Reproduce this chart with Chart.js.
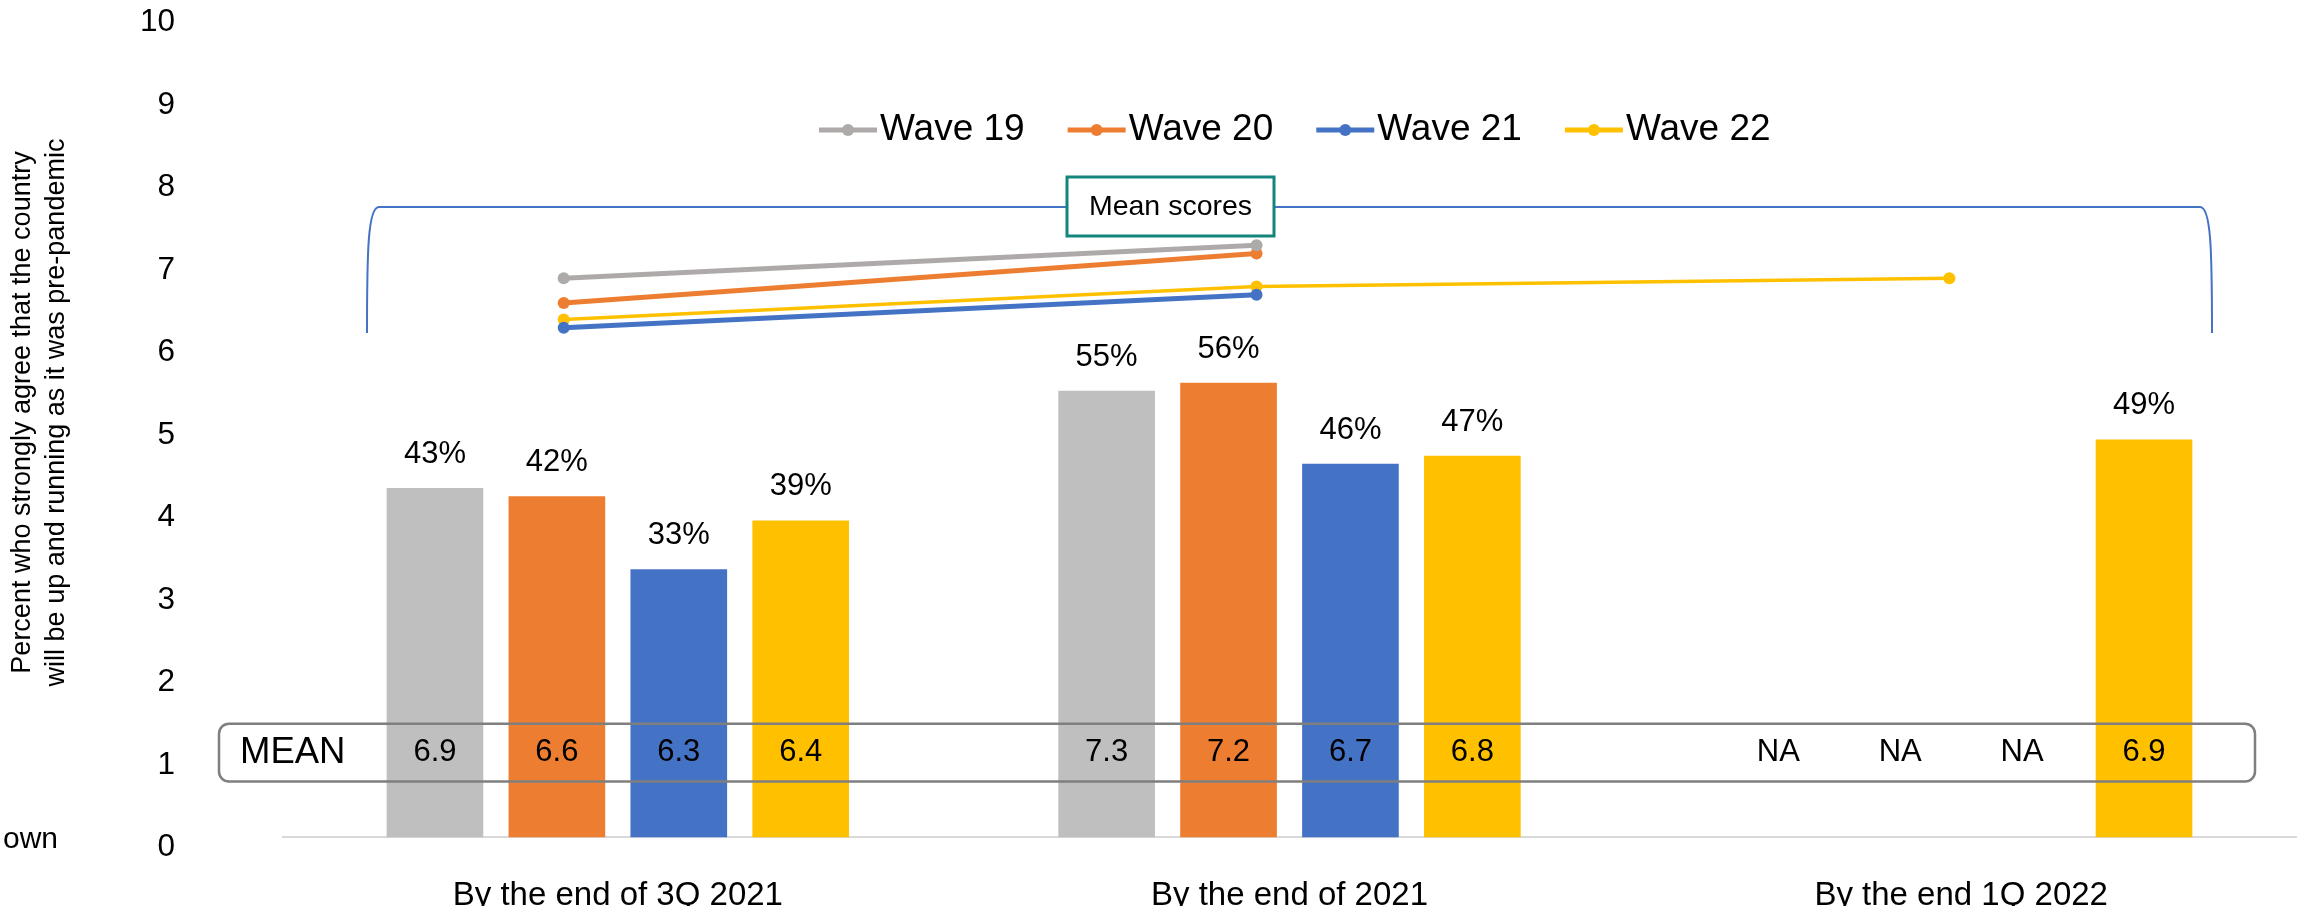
<!DOCTYPE html>
<html>
<head>
<meta charset="utf-8">
<script src="https://cdn.jsdelivr.net/npm/chart.js@4.4.1/dist/chart.umd.min.js"></script>
<style>
  html, body { margin: 0; padding: 0; background: #fff; }
  #wrap { position: relative; width: 2303px; height: 906px; }
</style>
</head>
<body>
<div id="wrap"><canvas id="chart"></canvas></div>
<script>
const categories = ['By the end of 3Q 2021', 'By the end of 2021', 'By the end 1Q 2022'];
const waves = ['Wave 19', 'Wave 20', 'Wave 21', 'Wave 22'];

// percent who strongly agree (bars)
const pct19 = [43, 55, null];
const pct20 = [42, 56, null];
const pct21 = [33, 46, null];
const pct22 = [39, 47, 49];

// mean scores (lines and the MEAN row)
const mean19 = [6.9, 7.3, null];
const mean20 = [6.6, 7.2, null];
const mean21 = [6.3, 6.7, null];
const mean22 = [6.4, 6.8, 6.9];

const yTickValues = [0, 1, 2, 3, 4, 5, 6, 7, 8, 9, 10];

const pcts = [pct19, pct20, pct21, pct22];
const means = [mean19, mean20, mean21, mean22];
const barColors = ['#BFBFBF', '#ED7D31', '#4472C4', '#FFC000'];
const lineColors = ['#AEAAAA', '#ED7D31', '#4472C4', '#FFC000'];
const FONT = "'Liberation Sans', Arial, sans-serif";

// share of a category taken by the group of four bars
// (chart.js 4.5 counts the line datasets as bar stacks, so the grouping is done here)
const GROUP = 0.726;
const slotOffset = i => (i - (waves.length - 1) / 2) * GROUP / waves.length;

Chart.defaults.font.family = FONT;
Chart.defaults.color = '#000';

const decorations = {
    id: 'decorations',
    beforeDatasetsDraw(chart) {
        const { ctx, chartArea } = chart;
        const y0 = chart.scales.yBar.getPixelForValue(0);
        ctx.save();
        ctx.strokeStyle = '#D9D9D9';
        ctx.lineWidth = 2;
        ctx.beginPath();
        ctx.moveTo(chartArea.left, y0);
        ctx.lineTo(chartArea.right, y0);
        ctx.stroke();
        ctx.restore();
    },
    afterDatasetsDraw(chart) {
        const { ctx } = chart;
        ctx.save();
        // bracket over the mean lines
        ctx.strokeStyle = '#4472C4';
        ctx.lineWidth = 2;
        ctx.beginPath();
        ctx.moveTo(367, 333);
        ctx.bezierCurveTo(367, 250, 368, 207, 379, 207);
        ctx.lineTo(2200, 207);
        ctx.bezierCurveTo(2211, 207, 2212, 250, 2212, 333);
        ctx.stroke();

        // "Mean scores" box
        ctx.fillStyle = '#fff';
        ctx.fillRect(1067, 177, 207, 59);
        ctx.strokeStyle = '#13857C';
        ctx.lineWidth = 3;
        ctx.strokeRect(1067, 177, 207, 59);
        ctx.fillStyle = '#000';
        ctx.font = `28.5px ${FONT}`;
        ctx.textAlign = 'center';
        ctx.textBaseline = 'middle';
        ctx.fillText('Mean scores', 1170.5, 207);
        ctx.restore();
    },
    afterDraw(chart) {
        const { ctx } = chart;
        const y = chart.scales.y;
        ctx.save();

        // percent labels above bars
        ctx.fillStyle = '#000';
        ctx.textAlign = 'center';
        ctx.textBaseline = 'middle';
        ctx.font = `31px ${FONT}`;
        const barMetas = chart.data.datasets
            .map((ds, i) => ({ ds, meta: chart.getDatasetMeta(i) }))
            .filter(o => o.ds.type === 'bar');
        barMetas.forEach(({ meta }, i) => {
            meta.data.forEach((el, j) => {
                const v = pcts[i][j];
                if (v == null) return;
                ctx.fillText(`${v}%`, el.x, el.y - 34);
            });
        });

        // MEAN row
        const top = y.getPixelForValue(1.5);
        const bot = y.getPixelForValue(0.8);
        ctx.strokeStyle = '#7F7F7F';
        ctx.lineWidth = 2.5;
        ctx.beginPath();
        ctx.roundRect(219, top, 2036, bot - top, 10);
        ctx.stroke();

        const rowY = (top + bot) / 2;
        ctx.textAlign = 'left';
        ctx.font = `36.5px ${FONT}`;
        ctx.fillText('MEAN', 240, rowY);
        ctx.textAlign = 'center';
        ctx.font = `31px ${FONT}`;
        barMetas.forEach(({ meta }, i) => {
            meta.data.forEach((el, j) => {
                const m = means[i][j];
                ctx.fillText(m == null ? 'NA' : m.toFixed(1), el.x, rowY);
            });
        });

        // legend
        let lx = 819;
        const ly = 130;
        ctx.font = `37px ${FONT}`;
        ctx.textAlign = 'left';
        waves.forEach((w, i) => {
            ctx.strokeStyle = lineColors[i];
            ctx.fillStyle = lineColors[i];
            ctx.lineWidth = 5;
            ctx.beginPath();
            ctx.moveTo(lx, ly);
            ctx.lineTo(lx + 58, ly);
            ctx.stroke();
            ctx.beginPath();
            ctx.arc(lx + 29, ly, 6, 0, Math.PI * 2);
            ctx.fill();
            ctx.fillStyle = '#000';
            ctx.fillText(w, lx + 61, ly);
            lx += 61 + ctx.measureText(w).width + 43;
        });

        // clipped text at the left edge
        ctx.font = `30px ${FONT}`;
        ctx.textBaseline = 'alphabetic';
        ctx.fillText('own', 3, 848);
        ctx.restore();
    }
};

const barSets = waves.map((w, i) => ({
    type: 'bar',
    label: w,
    data: pcts[i].map((v, j) => ({ x: j + slotOffset(i), y: v })),
    xAxisID: 'xBar',
    yAxisID: 'yBar',
    grouped: false,
    barThickness: 96,
    backgroundColor: barColors[i],
    borderWidth: 0
}));

const lineSets = waves.map((w, i) => ({
    type: 'line',
    label: w,
    data: means[i].map((v, j) => ({ x: j, y: v })),
    xAxisID: 'xLine',
    yAxisID: 'y',
    borderColor: lineColors[i],
    backgroundColor: lineColors[i],
    borderWidth: i === 3 ? 3.5 : 5,
    pointRadius: 6,
    pointHoverRadius: 6,
    pointBorderWidth: 0,
    tension: 0,
    spanGaps: false
}));

const pad = '      ';

new Chart(document.getElementById('chart'), {
    type: 'bar',
    data: { labels: categories, datasets: [...barSets, ...lineSets] },
    options: {
        responsive: true,
        maintainAspectRatio: false,
        animation: false,
        layout: { padding: { left: 0, right: 4, top: 22.5, bottom: 0 } },
        plugins: { legend: { display: false }, tooltip: { enabled: false } },
        scales: {
            x: {
                type: 'category',
                offset: true,
                grid: { display: false },
                border: { display: false },
                ticks: { font: { size: 33 }, padding: 20.7, color: '#000' },
                afterFit(s) { s.height = 58.5; }
            },
            xBar: { type: 'linear', display: false, offset: false, min: -0.5, max: 2.5 },
            xLine: { type: 'linear', display: false, offset: false, min: -0.4066, max: 2.5018 },
            y: {
                position: 'left',
                weight: 1,
                min: 0,
                max: 10,
                grid: { display: false },
                border: { display: false },
                afterBuildTicks(s) { s.ticks = yTickValues.map(v => ({ value: v })); },
                ticks: { font: { size: 31.5 }, padding: 2, color: '#000' },
                title: {
                    display: true,
                    text: [pad + 'Percent who strongly agree that the country', pad + 'will be up and running as it was pre-pandemic'],
                    font: { size: 27, lineHeight: 1.26 },
                    color: '#000',
                    padding: { top: 6, bottom: 0 }
                },
                afterFit(s) { s.width = 185; }
            },
            // value axis for the bars; also keeps the gap between tick labels and plot
            yBar: {
                type: 'linear',
                position: 'left',
                weight: 0,
                min: -1.295,
                max: 100.47,
                grid: { display: false },
                border: { display: false },
                ticks: { display: false },
                afterFit(s) { s.width = 97; }
            }
        }
    },
    plugins: [decorations]
});
</script>
</body>
</html>
